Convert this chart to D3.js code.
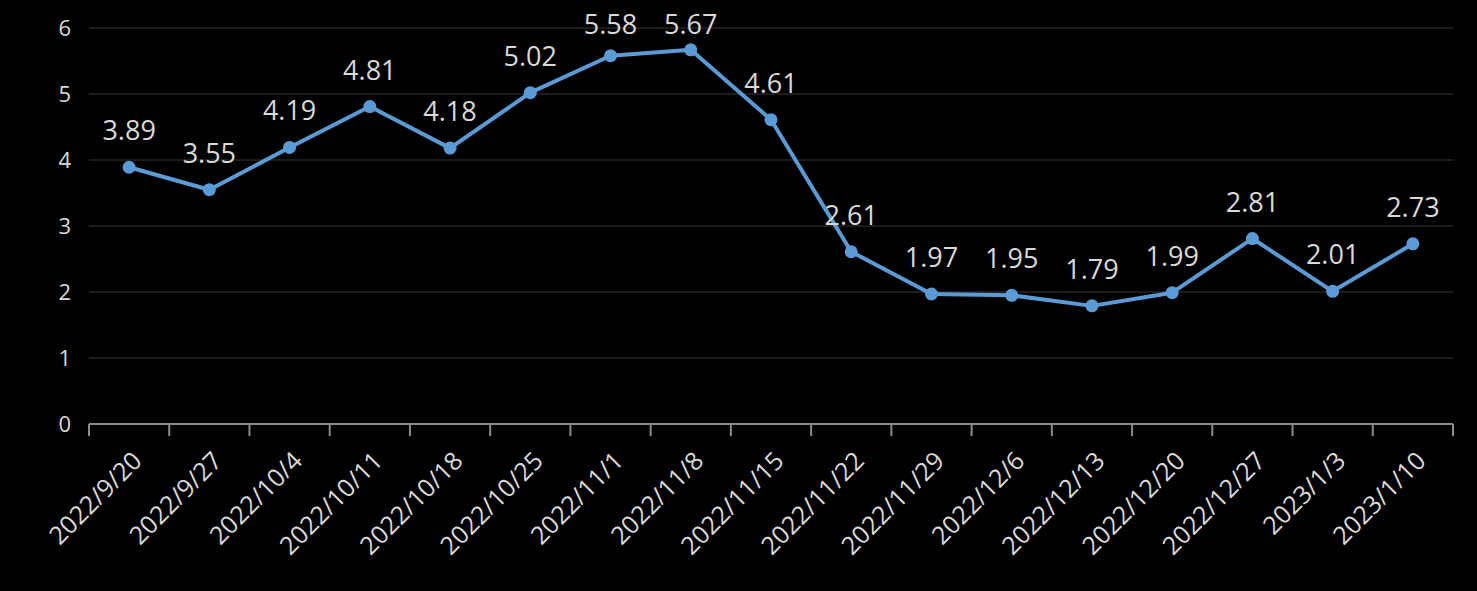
<!DOCTYPE html>
<html><head><meta charset="utf-8">
<script src="https://cdn.jsdelivr.net/npm/d3@7"></script>
<style>body{margin:0;background:#000;}svg{display:block;}</style>
</head><body>
<svg id="c" width="1477" height="591"></svg>
<script>
const categories = ["2022/9/20","2022/9/27","2022/10/4","2022/10/11","2022/10/18","2022/10/25","2022/11/1","2022/11/8","2022/11/15","2022/11/22","2022/11/29","2022/12/6","2022/12/13","2022/12/20","2022/12/27","2023/1/3","2023/1/10"];
const values = [3.89,3.55,4.19,4.81,4.18,5.02,5.58,5.67,4.61,2.61,1.97,1.95,1.79,1.99,2.81,2.01,2.73];
const yTicks = [0,1,2,3,4,5,6];

(function(){
const svg = d3.select("#c");
svg.append("rect").attr("width",1477).attr("height",591).attr("fill","#000");
const font = "'Open Sans', 'Noto Sans', sans-serif";
const mLeft = 89, mRight = 1453, mTop = 28, mBottom = 424;
const x = d3.scaleBand().domain(categories).range([mLeft,mRight]).padding(0);
const y = d3.scaleLinear().domain([0,6]).range([mBottom,mTop]);

svg.append("g").selectAll("line").data(yTicks.filter(d=>d>0)).join("line")
  .attr("x1",mLeft).attr("x2",mRight).attr("y1",d=>y(d)).attr("y2",d=>y(d))
  .attr("stroke","#262626").attr("stroke-width",1.5);

svg.append("g").selectAll("text").data(yTicks).join("text")
  .attr("x",71).attr("y",d=>y(d)).attr("dy","0.36em").attr("text-anchor","end")
  .attr("fill","#d9d9d9").attr("font-family",font).attr("font-size",22).text(d=>d);

const xa = svg.append("g").attr("transform",`translate(0,${mBottom})`);
xa.append("line").attr("x1",mLeft).attr("x2",mRight).attr("stroke","#8c8c8c").attr("stroke-width",2);
const edges = categories.map(c=>x(c)).concat([mRight]);
xa.selectAll("line.t").data(edges).join("line").attr("class","t")
  .attr("x1",d=>d).attr("x2",d=>d).attr("y1",0).attr("y2",12)
  .attr("stroke","#8c8c8c").attr("stroke-width",2);
xa.selectAll("text").data(categories).join("text")
  .attr("transform",d=>`translate(${x(d)+x.bandwidth()/2+8},${32}) rotate(-45)`)
  .attr("text-anchor","end").attr("dy","0.36em")
  .attr("fill","#d9d9d9").attr("font-family",font).attr("font-size",25).text(d=>d);

const cx = d=>x(d)+x.bandwidth()/2;
const line = d3.line().x((d,i)=>cx(categories[i])).y(d=>y(d));
svg.append("path").datum(values).attr("d",line).attr("fill","none")
  .attr("stroke","#5b9bd5").attr("stroke-width",4).attr("stroke-linejoin","round");
svg.append("g").selectAll("circle").data(values).join("circle")
  .attr("cx",(d,i)=>cx(categories[i])).attr("cy",d=>y(d)).attr("r",6.5)
  .attr("fill","#5b9bd5");
svg.append("g").selectAll("text").data(values).join("text")
  .attr("x",(d,i)=>cx(categories[i])).attr("y",d=>Math.max(34, y(d)-27))
  .attr("text-anchor","middle").attr("fill","#d9d9d9").attr("font-family",font).attr("font-size",27)
  .text(d=>d.toFixed(2));
})();
</script>
</body></html>
